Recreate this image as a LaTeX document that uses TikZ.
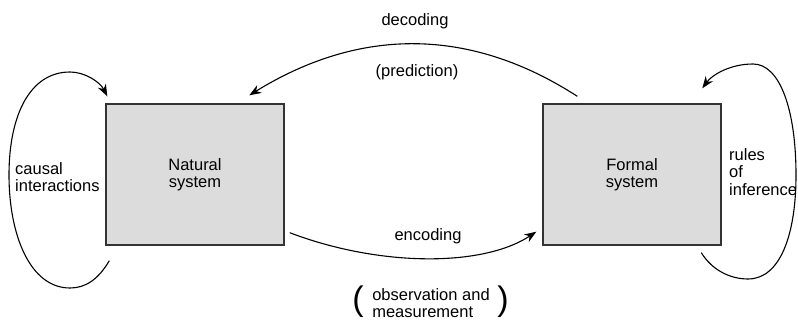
\documentclass[tikz,border=0pt]{standalone}
\usepackage{fontspec}
\setmainfont{Liberation Sans}
\usetikzlibrary{arrows.meta}
\definecolor{boxfill}{HTML}{DCDCDC}
\definecolor{boxline}{HTML}{333333}
\tikzset{
  sysbox/.style={draw=boxline, line width=1.4pt, fill=boxfill, minimum width=178pt, minimum height=141pt, inner sep=0pt, align=center},
  lbl/.style={inner sep=0pt, align=left},
  arc/.style={line width=1.1pt, -{Stealth[length=12pt,width=9pt,inset=4pt]}},
  every node/.style={font=\fontsize{16.5}{17.5}\selectfont}
}
\begin{document}
\begin{tikzpicture}[x=1pt,y=-1pt]
\useasboundingbox (0,0) rectangle (798,321);
\node[sysbox] (nat) at (195,174.5) {Natural\\system};
\node[sysbox] (fm) at (632,174.5) {Formal\\system};
% left loop
\coordinate (ls) at ([shift={(4,15)}]nat.south west);
\coordinate (le) at ([shift={(2,-7)}]nat.north west);
\draw[arc] (ls) .. controls (98,280) and (85,288) .. (70,288)
  .. controls (30,288) and (9,235) .. (9,175)
  .. controls (9,115) and (30,72) .. (70,72)
  .. controls (85,72) and (100,82) .. (le);
% right loop
\coordinate (rs) at ([shift={(159,7)}]fm.south west);
\coordinate (re) at ([shift={(160,-15)}]fm.north west);
\draw[arc] (rs) .. controls (712,270) and (730,279) .. (748,279)
  .. controls (780,279) and (796,235) .. (796,175)
  .. controls (796,110) and (780,64) .. (753,64)
  .. controls (730,64) and (712,75) .. (re);
% decoding
\coordinate (ds) at ([shift={(35,-7)}]fm.north west);
\coordinate (de) at ([shift={(144,-8)}]nat.north west);
\draw[arc] (ds) .. controls (470,27) and (360,27) .. (de);
% encoding
\coordinate (es) at ([shift={(5,-13)}]nat.south east);
\coordinate (ee) at ([shift={(-6,-14)}]fm.south west);
\draw[arc] (es) .. controls (380,267) and (483,267) .. (ee);
% labels
\node[lbl] (dec) at (415,21) {decoding};
\node[lbl] (pred) at (417,72) {(prediction)};
\node[lbl] (enc) at (428,236) {encoding};
\node[lbl, anchor=west] (caus) at (15,177) {causal\\interactions};
\node[lbl, anchor=west] (rules) at (729,172) {rules\\of\\inference};
\node[lbl] (obs) at (431,303) {observation and\\measurement};
\node[inner sep=0pt, font=\fontsize{34}{34}\selectfont] (lp) at (358,302) {(};
\node[inner sep=0pt, font=\fontsize{34}{34}\selectfont] (rp) at (503,302) {)};
\end{tikzpicture}
\end{document}
